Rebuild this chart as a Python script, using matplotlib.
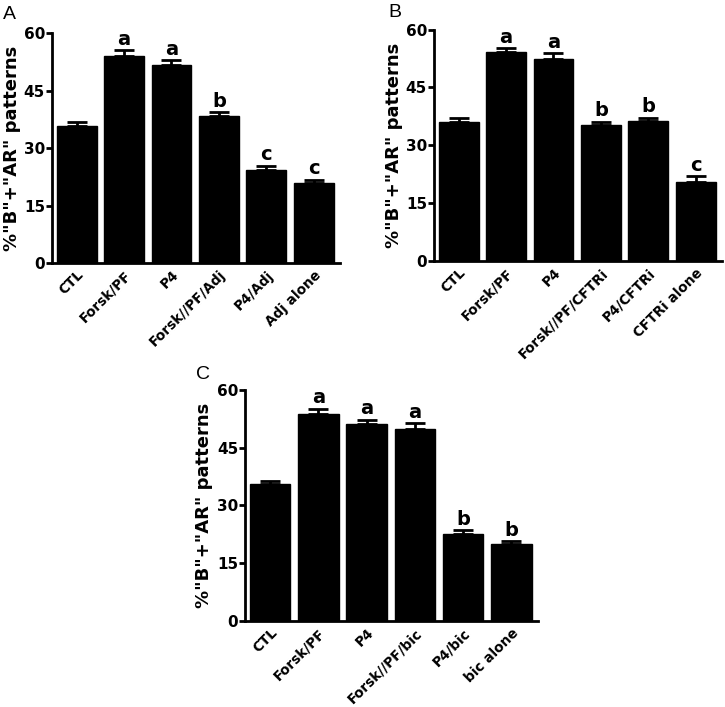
import matplotlib.pyplot as plt
import numpy as np

plt.rcParams['font.family'] = ['DejaVu Sans']

# panel A
labels_a = ['CTL', 'Forsk/PF', 'P4', 'Forsk//PF/Adj', 'P4/Adj', 'Adj alone']
means_a = [35.8, 54.1, 51.8, 38.4, 24.3, 20.9]
errs_a = [1.0, 1.4, 1.1, 1.0, 1.1, 0.8]
letters_a = ['', 'a', 'a', 'b', 'c', 'c']

# panel B
labels_b = ['CTL', 'Forsk/PF', 'P4', 'Forsk//PF/CFTRi', 'P4/CFTRi', 'CFTRi alone']
means_b = [36.0, 54.3, 52.4, 35.3, 36.2, 20.4]
errs_b = [1.1, 0.9, 1.5, 0.8, 0.9, 1.6]
letters_b = ['', 'a', 'a', 'b', 'b', 'c']

# panel C
labels_c = ['CTL', 'Forsk/PF', 'P4', 'Forsk//PF/bic', 'P4/bic', 'bic alone']
means_c = [35.6, 53.8, 51.1, 49.9, 22.6, 20.1]
errs_c = [0.8, 1.3, 1.1, 1.4, 1.0, 0.6]
letters_c = ['', 'a', 'a', 'a', 'b', 'b']

yticks = [0, 15, 30, 45, 60]
ylabel = '%"B"+"AR" patterns'

fig = plt.figure(figsize=(7.25, 7.07), dpi=100)


def panel(rect, labels, means, errs, letters, tag, tagpos):
    ax = fig.add_axes(rect)
    x = np.arange(len(labels))
    ax.bar(x, means, width=0.84, color='black', edgecolor='black', zorder=2)
    ax.errorbar(x, means, yerr=[np.zeros(len(errs)), errs], fmt='none',
                ecolor='black', elinewidth=2, capsize=7, capthick=2, zorder=3)
    for xi, m, e, l in zip(x, means, errs, letters):
        if l:
            ax.text(xi, m + e + 0.4, l, ha='center', va='bottom',
                    fontsize=14, fontweight='bold')
    ax.set_xlim(-0.52, 5.55)
    ax.set_ylim(0, 60)
    ax.set_yticks(yticks)
    ax.set_xticks(x)
    ax.set_xticklabels(labels, rotation=45, ha='right', rotation_mode='anchor',
                       fontsize=9.8, fontweight='bold')
    for t in ax.get_yticklabels():
        t.set_fontweight('bold')
        t.set_fontsize(11)
    ax.spines['top'].set_visible(False)
    ax.spines['right'].set_visible(False)
    ax.spines['left'].set_linewidth(2)
    ax.spines['bottom'].set_linewidth(2)
    ax.tick_params(axis='y', length=4, width=2, pad=1)
    ax.tick_params(axis='x', length=0, pad=3.5)
    ax.set_ylabel(ylabel, fontsize=13, fontweight='bold')
    ax.yaxis.set_label_coords(-0.108, 0.5)
    fig.text(tagpos[0], tagpos[1], tag, fontsize=14, ha='left', va='top',
             family='Liberation Sans')
    return ax


panel([0.0717, 0.628, 0.397, 0.325], labels_a, means_a, errs_a, letters_a, 'A', (0.004, 0.992))
panel([0.5986, 0.631, 0.397, 0.327], labels_b, means_b, errs_b, letters_b, 'B', (0.536, 0.994))
panel([0.338, 0.1216, 0.404, 0.327], labels_c, means_c, errs_c, letters_c, 'C', (0.27, 0.483))

plt.savefig('out.png', dpi=100)
